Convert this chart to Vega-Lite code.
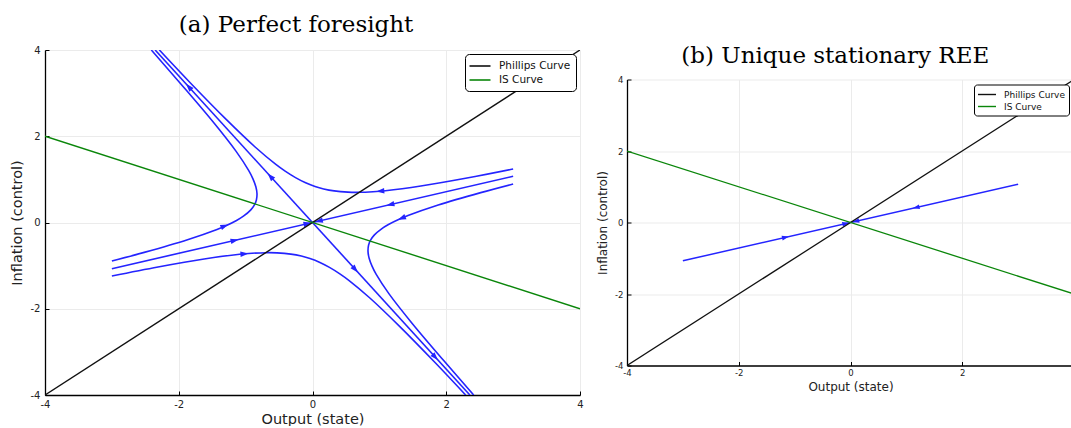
{
  "$schema": "https://vega.github.io/schema/vega-lite/v6.json",
  "background": "white",
  "padding": {"left": 9, "top": 14, "right": 0, "bottom": 0},
  "datasets": {
    "ref": [
      {"series": "Phillips Curve", "x": -4, "y": -4},
      {"series": "Phillips Curve", "x": 4, "y": 4},
      {"series": "IS Curve", "x": -4, "y": 2},
      {"series": "IS Curve", "x": 4, "y": -2}
    ],
    "traj_a": [
      {"path": "stable", "i": 0, "x": -3.0, "y": -1.071},
      {"path": "stable", "i": 1, "x": 3.0, "y": 1.071},
      {"path": "unstable", "i": 0, "x": -2.353, "y": 4.0},
      {"path": "unstable", "i": 1, "x": 2.353, "y": -4.0},
      {"path": "A", "i": 0, "x": 3.0, "y": 1.24},
      {"path": "A", "i": 1, "x": 2.31, "y": 1.03},
      {"path": "A", "i": 2, "x": 1.62, "y": 0.845},
      {"path": "A", "i": 3, "x": 1.09, "y": 0.737},
      {"path": "A", "i": 4, "x": 0.905, "y": 0.714},
      {"path": "A", "i": 5, "x": 0.694, "y": 0.70},
      {"path": "A", "i": 6, "x": 0.531, "y": 0.704},
      {"path": "A", "i": 7, "x": 0.324, "y": 0.733},
      {"path": "A", "i": 8, "x": 0.167, "y": 0.779},
      {"path": "A", "i": 9, "x": 0.038, "y": 0.836},
      {"path": "A", "i": 10, "x": -0.111, "y": 0.927},
      {"path": "A", "i": 11, "x": -0.254, "y": 1.041},
      {"path": "A", "i": 12, "x": -0.409, "y": 1.191},
      {"path": "A", "i": 13, "x": -0.548, "y": 1.347},
      {"path": "A", "i": 14, "x": -0.858, "y": 1.751},
      {"path": "A", "i": 15, "x": -1.306, "y": 2.414},
      {"path": "A", "i": 16, "x": -1.836, "y": 3.253},
      {"path": "A", "i": 17, "x": -2.29, "y": 4.0},
      {"path": "D", "i": 0, "x": -3.0, "y": -1.24},
      {"path": "D", "i": 1, "x": -2.31, "y": -1.03},
      {"path": "D", "i": 2, "x": -1.62, "y": -0.845},
      {"path": "D", "i": 3, "x": -1.09, "y": -0.737},
      {"path": "D", "i": 4, "x": -0.905, "y": -0.714},
      {"path": "D", "i": 5, "x": -0.694, "y": -0.70},
      {"path": "D", "i": 6, "x": -0.531, "y": -0.704},
      {"path": "D", "i": 7, "x": -0.324, "y": -0.733},
      {"path": "D", "i": 8, "x": -0.167, "y": -0.779},
      {"path": "D", "i": 9, "x": -0.038, "y": -0.836},
      {"path": "D", "i": 10, "x": 0.111, "y": -0.927},
      {"path": "D", "i": 11, "x": 0.254, "y": -1.041},
      {"path": "D", "i": 12, "x": 0.409, "y": -1.191},
      {"path": "D", "i": 13, "x": 0.548, "y": -1.347},
      {"path": "D", "i": 14, "x": 0.858, "y": -1.751},
      {"path": "D", "i": 15, "x": 1.306, "y": -2.414},
      {"path": "D", "i": 16, "x": 1.836, "y": -3.253},
      {"path": "D", "i": 17, "x": 2.29, "y": -4.0},
      {"path": "B", "i": 0, "x": 3.0, "y": 0.893},
      {"path": "B", "i": 1, "x": 2.516, "y": 0.693},
      {"path": "B", "i": 2, "x": 1.88, "y": 0.404},
      {"path": "B", "i": 3, "x": 1.428, "y": 0.16},
      {"path": "B", "i": 4, "x": 1.287, "y": 0.069},
      {"path": "B", "i": 5, "x": 1.136, "y": -0.047},
      {"path": "B", "i": 6, "x": 1.033, "y": -0.146},
      {"path": "B", "i": 7, "x": 0.926, "y": -0.287},
      {"path": "B", "i": 8, "x": 0.868, "y": -0.41},
      {"path": "B", "i": 9, "x": 0.839, "y": -0.523},
      {"path": "B", "i": 10, "x": 0.83, "y": -0.67},
      {"path": "B", "i": 11, "x": 0.847, "y": -0.829},
      {"path": "B", "i": 12, "x": 0.892, "y": -1.019},
      {"path": "B", "i": 13, "x": 0.953, "y": -1.203},
      {"path": "B", "i": 14, "x": 1.142, "y": -1.649},
      {"path": "B", "i": 15, "x": 1.494, "y": -2.346},
      {"path": "B", "i": 16, "x": 1.965, "y": -3.207},
      {"path": "B", "i": 17, "x": 2.41, "y": -4.0},
      {"path": "C", "i": 0, "x": -3.0, "y": -0.893},
      {"path": "C", "i": 1, "x": -2.516, "y": -0.693},
      {"path": "C", "i": 2, "x": -1.88, "y": -0.404},
      {"path": "C", "i": 3, "x": -1.428, "y": -0.16},
      {"path": "C", "i": 4, "x": -1.287, "y": -0.069},
      {"path": "C", "i": 5, "x": -1.136, "y": 0.047},
      {"path": "C", "i": 6, "x": -1.033, "y": 0.146},
      {"path": "C", "i": 7, "x": -0.926, "y": 0.287},
      {"path": "C", "i": 8, "x": -0.868, "y": 0.41},
      {"path": "C", "i": 9, "x": -0.839, "y": 0.523},
      {"path": "C", "i": 10, "x": -0.83, "y": 0.67},
      {"path": "C", "i": 11, "x": -0.847, "y": 0.829},
      {"path": "C", "i": 12, "x": -0.892, "y": 1.019},
      {"path": "C", "i": 13, "x": -0.953, "y": 1.203},
      {"path": "C", "i": 14, "x": -1.142, "y": 1.649},
      {"path": "C", "i": 15, "x": -1.494, "y": 2.346},
      {"path": "C", "i": 16, "x": -1.965, "y": 3.207},
      {"path": "C", "i": 17, "x": -2.41, "y": 4.0}
    ],
    "flow_a": [
      {"x": -1.17, "y": -0.418, "dx": 1, "dy": 0.357},
      {"x": -0.08, "y": -0.029, "dx": 1, "dy": 0.357},
      {"x": 0.1, "y": 0.036, "dx": -1, "dy": -0.357},
      {"x": 1.17, "y": 0.418, "dx": -1, "dy": -0.357},
      {"x": -0.625, "y": 1.062, "dx": -1, "dy": 1.7},
      {"x": -1.846, "y": 3.138, "dx": -1, "dy": 1.7},
      {"x": 0.635, "y": -1.08, "dx": 1, "dy": -1.7},
      {"x": 1.83, "y": -3.111, "dx": 1, "dy": -1.7},
      {"x": 1.02, "y": 0.728, "dx": -1, "dy": -0.124},
      {"x": 1.34, "y": 0.103, "dx": -1, "dy": -0.645},
      {"x": -1.32, "y": -0.085, "dx": 1, "dy": 0.645},
      {"x": -1.024, "y": -0.729, "dx": 1, "dy": 0.124}
    ],
    "traj_b": [
      {"path": "stable", "i": 0, "x": -3.0, "y": -1.071},
      {"path": "stable", "i": 1, "x": 3.0, "y": 1.071}
    ],
    "flow_b": [
      {"x": -1.17, "y": -0.418, "dx": 1, "dy": 0.357},
      {"x": -0.09, "y": -0.032, "dx": 1, "dy": 0.357},
      {"x": 0.1, "y": 0.036, "dx": -1, "dy": -0.357},
      {"x": 1.18, "y": 0.421, "dx": -1, "dy": -0.357}
    ]
  },
  "spacing": 47,
  "bounds": "flush",
  "center": true,
  "resolve": {
    "scale": {"x": "independent", "y": "independent", "color": "independent"},
    "legend": {"color": "independent"}
  },
  "hconcat": [
    {
      "width": 535,
      "height": 345,
      "title": {"text": "(a) Perfect foresight"},
      "layer": [
        {
          "data": {"name": "traj_a"},
          "mark": {"type": "line", "color": "#2424ff", "strokeWidth": 1.6, "interpolate": "catmull-rom", "clip": true},
          "encoding": {
            "x": {"field": "x", "type": "quantitative", "scale": {"domain": [-4, 4], "nice": false, "zero": false},
              "axis": {"title": "Output (state)", "values": [-4, -2, 0, 2, 4], "labelExpr": "'' + datum.value", "labelFontSize": 10, "titleFontSize": 14.5, "titlePadding": 3, "labelPadding": 8, "tickSize": -4}},
            "y": {"field": "y", "type": "quantitative", "scale": {"domain": [-4, 4], "nice": false, "zero": false},
              "axis": {"title": "Inflation (control)", "values": [-4, -2, 0, 2, 4], "labelExpr": "'' + datum.value", "labelFontSize": 10, "titleFontSize": 14.5, "titlePadding": 6, "labelPadding": 9, "tickSize": -4}},
            "detail": {"field": "path", "type": "nominal"},
            "order": {"field": "i", "type": "quantitative"}
          }
        },
        {
          "data": {"name": "flow_a"},
          "transform": [{"calculate": "atan2(datum.dx * 535 / 8, datum.dy * 345 / 8) * 180 / PI", "as": "heading"}],
          "mark": {"type": "point", "shape": "M0,-1L0.62,0.8L-0.62,0.8Z", "filled": true, "color": "#2424ff", "opacity": 1, "size": 80},
          "encoding": {
            "x": {"field": "x", "type": "quantitative"},
            "y": {"field": "y", "type": "quantitative"},
            "angle": {"field": "heading", "type": "quantitative", "scale": null}
          }
        },
        {
          "data": {"name": "ref"},
          "mark": {"type": "line", "strokeWidth": 1.4, "clip": true},
          "encoding": {
            "x": {"field": "x", "type": "quantitative"},
            "y": {"field": "y", "type": "quantitative"},
            "color": {"field": "series", "type": "nominal",
              "scale": {"domain": ["Phillips Curve", "IS Curve"], "range": ["#111111", "#0a860a"]},
              "legend": {"title": null, "orient": "top-right", "offset": 4, "symbolType": "M-1.75,0H1.75", "symbolSize": 144, "symbolOffset": 3, "symbolStrokeWidth": 1.6, "labelFontSize": 10.5, "labelOffset": 12, "padding": 5, "rowPadding": 1, "strokeColor": "#000000", "fillColor": "#ffffff", "cornerRadius": 4}}
          }
        }
      ]
    },
    {
      "width": 447,
      "height": 286,
      "title": {"text": "(b) Unique stationary REE"},
      "layer": [
        {
          "data": {"name": "traj_b"},
          "mark": {"type": "line", "color": "#2424ff", "strokeWidth": 1.5, "clip": true},
          "encoding": {
            "x": {"field": "x", "type": "quantitative", "scale": {"domain": [-4, 4], "nice": false, "zero": false},
              "axis": {"title": "Output (state)", "values": [-4, -2, 0, 2], "labelExpr": "'' + datum.value", "labelFontSize": 8.5, "titleFontSize": 12, "titlePadding": 4, "labelPadding": 7, "tickSize": -4}},
            "y": {"field": "y", "type": "quantitative", "scale": {"domain": [-4, 4], "nice": false, "zero": false},
              "axis": {"title": "Inflation (control)", "values": [-4, -2, 0, 2, 4], "labelExpr": "'' + datum.value", "labelFontSize": 8.5, "titleFontSize": 12, "titlePadding": 5, "labelPadding": 8, "tickSize": -4}},
            "detail": {"field": "path", "type": "nominal"},
            "order": {"field": "i", "type": "quantitative"}
          }
        },
        {
          "data": {"name": "flow_b"},
          "transform": [{"calculate": "atan2(datum.dx * 447 / 8, datum.dy * 286 / 8) * 180 / PI", "as": "heading"}],
          "mark": {"type": "point", "shape": "M0,-1L0.62,0.8L-0.62,0.8Z", "filled": true, "color": "#2424ff", "opacity": 1, "size": 60},
          "encoding": {
            "x": {"field": "x", "type": "quantitative"},
            "y": {"field": "y", "type": "quantitative"},
            "angle": {"field": "heading", "type": "quantitative", "scale": null}
          }
        },
        {
          "data": {"name": "ref"},
          "mark": {"type": "line", "strokeWidth": 1.3, "clip": true},
          "encoding": {
            "x": {"field": "x", "type": "quantitative"},
            "y": {"field": "y", "type": "quantitative"},
            "color": {"field": "series", "type": "nominal",
              "scale": {"domain": ["Phillips Curve", "IS Curve"], "range": ["#111111", "#0a860a"]},
              "legend": {"title": null, "orient": "top-right", "offset": 5, "symbolType": "M-1.8,0H1.8", "symbolSize": 100, "symbolOffset": 3, "symbolStrokeWidth": 1.4, "labelFontSize": 9, "labelOffset": 11, "padding": 4, "rowPadding": 1, "strokeColor": "#000000", "fillColor": "#ffffff", "cornerRadius": 3}}
          }
        }
      ]
    }
  ],
  "config": {
    "view": {"stroke": null},
    "font": "DejaVu Sans",
    "title": {"font": "DejaVu Serif", "fontSize": 23, "fontWeight": "normal", "color": "#000000", "anchor": "middle", "frame": "bounds", "baseline": "alphabetic", "offset": 8},
    "axis": {
      "grid": true,
      "gridColor": "#ebebeb",
      "gridWidth": 1,
      "domainColor": "#000000",
      "domainWidth": 1.3,
      "tickColor": "#000000",
      "tickWidth": 1,
      "labelColor": "#222222",
      "titleColor": "#222222",
      "labelFont": "DejaVu Sans",
      "titleFont": "DejaVu Sans",
      "titleFontWeight": "normal",
      "labelFlush": false,
      "labelBound": false,
      "labelOverlap": false
    },
    "legend": {"labelFont": "DejaVu Sans", "labelColor": "#111111"}
  }
}
